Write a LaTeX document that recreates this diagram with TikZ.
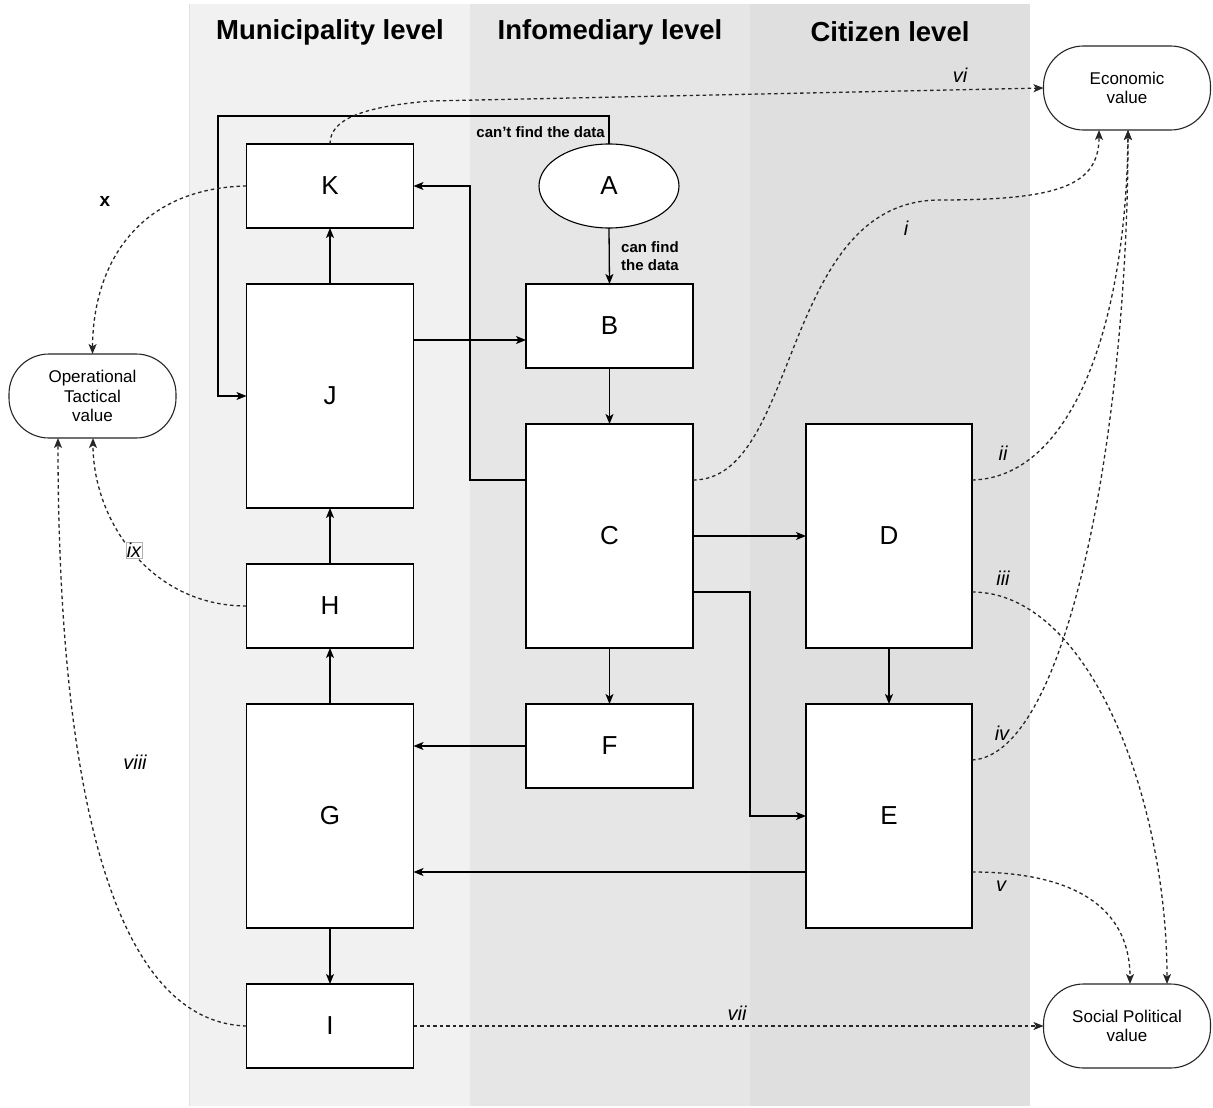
\documentclass[tikz,border=0pt]{standalone}
\usepackage{fontspec}
\setmainfont{Liberation Sans}
\usetikzlibrary{arrows.meta,shapes.geometric}

\definecolor{laneone}{HTML}{F1F1F1}
\definecolor{lanetwo}{HTML}{E6E6E6}
\definecolor{lanethree}{HTML}{DFDFDF}

\tikzset{
  box/.style={draw=black, line width=1.3pt, fill=white, minimum width=167pt,
    inner sep=0pt, outer sep=0pt, font=\fontsize{26}{30}\selectfont},
  smallbox/.style={box, minimum height=84pt},
  tallbox/.style={box, minimum height=224pt},
  valuebox/.style={draw=black!85, line width=1.1pt, fill=white, rounded corners=40pt,
    minimum width=167pt, minimum height=84pt, inner sep=0pt, outer sep=0pt,
    align=center, font=\fontsize{17}{19.5}\selectfont},
  lanehead/.style={font=\bfseries\fontsize{27.5}{32}\selectfont},
  conn/.style={line width=1.3pt, -{Stealth[length=10pt,width=8pt,inset=2.5pt]}},
  dconn/.style={line width=1.3pt, black!85, dash pattern=on 3.5pt off 3pt,
    -{Stealth[length=10pt,width=8pt,inset=2.5pt]}},
  numlabel/.style={font=\itshape\fontsize{20}{22}\selectfont, inner sep=1pt},
  notelabel/.style={font=\bfseries\fontsize{15}{18}\selectfont, inner sep=0pt}
}

\begin{document}
\begin{tikzpicture}[x=1pt,y=-1pt]
% canvas
\useasboundingbox (0,0) rectangle (1213,1108);
\fill[white] (0,0) rectangle (1213,1108);

% swim lanes
\fill[laneone] (189,4) rectangle (470,1106);
\fill[lanetwo] (470,4) rectangle (750,1106);
\fill[lanethree] (750,4) rectangle (1030,1106);
\draw[black!12, line width=0.6pt] (189,4) -- (189,1106);
\node[lanehead] (hm) at (330,32) {Municipality level};
\node[lanehead] (hi) at (610,32) {Infomediary level};
\node[lanehead] (hc) at (890,32) {Citizen level};

% process nodes
\node[smallbox] (K) at (330,186) {K};
\node[draw=black, line width=1.1pt, fill=white, ellipse, minimum width=140pt,
      minimum height=84pt, inner sep=0pt, outer sep=0pt,
      font=\fontsize{26}{30}\selectfont] (A) at (609,186) {A};
\node[tallbox] (J) at (330,396) {J};
\node[smallbox] (B) at (609.5,326) {B};
\node[tallbox] (C) at (609.5,536) {C};
\node[tallbox, minimum width=166pt] (D) at (889,536) {D};
\node[smallbox] (H) at (330,606) {H};
\node[tallbox] (G) at (330,816) {G};
\node[smallbox] (F) at (609.5,746) {F};
\node[tallbox, minimum width=166pt] (E) at (889,816) {E};
\node[smallbox] (I) at (330,1026) {I};

% value nodes
\node[valuebox] (op) at (92.5,396) {Operational\\Tactical\\value};
\node[valuebox] (eco) at (1127,88) {Economic\\value};
\node[valuebox] (soc) at (1127,1026) {Social Political\\value};

% bend points
\coordinate (a1) at (609,116);
\coordinate (a2) at (218,116);
\coordinate (c1) at (526,480);
\coordinate (c2) at (470,480);
\coordinate (c3) at (693,592);
\coordinate (c4) at (750,592);
\coordinate (jb) at (413,340);
\coordinate (e1) at (806,872);

% solid flow
\draw[conn] (A.north) -- (a1) -- (a2) |- (J.west);
\node[notelabel, anchor=east] (cant) at (605,132) {can't find the data};
\draw[conn] (A.south) -- (B.north);
\node[notelabel, anchor=west, align=left] (can) at (621,256) {can find\\the data};
\draw[conn] (J.north) -- (K.south);
\draw[conn] (jb) -- (jb -| B.west);
\draw[conn] (c1) -- (c2) |- (K.east);
\draw[conn] (B.south) -- (C.north);
\draw[conn] (C.east) -- (D.west);
\draw[conn] (c3) -- (c4) |- (E.west);
\draw[conn] (C.south) -- (F.north);
\draw[conn] (F.west) -- (F.west -| G.east);
\draw[conn] (e1) -- (e1 -| G.east);
\draw[conn] (D.south) -- (E.north);
\draw[conn] (G.north) -- (H.south);
\draw[conn] (H.north) -- (J.south);
\draw[conn] (G.south) -- (I.north);

% value flows
\coordinate (ecoi) at (1099,130);
\coordinate (ecoii) at (1128,130);
\coordinate (socv) at (1130,984);
\coordinate (sociii) at (1167,984);
\coordinate (opviii) at (58,438);
\coordinate (opix) at (93,438);
\coordinate (cr) at (693,480);
\coordinate (dr1) at (972,480);
\coordinate (dr2) at (972,592);
\coordinate (er1) at (972,760);
\coordinate (er2) at (972,872);

\draw[dconn] (K.north) .. controls (330,120) and (360,107) .. (430,101) -- (eco.west);
\node[numlabel] (lvi) at (960,75) {vi};

\draw[dconn] (K.west) .. controls (140,188) and (93,262) .. (op.north);
\node[font=\bfseries\fontsize{19}{21}\selectfont] (lx) at (105,201) {x};

\draw[dconn] (cr) .. controls (800,480) and (780,200) .. (940,200)
                  .. controls (1060,200) and (1099,185) .. (ecoi);
\node[numlabel] (li) at (906,228) {i};

\draw[dconn] (dr1) .. controls (1070,478) and (1126,330) .. (ecoii);
\node[numlabel] (lii) at (1003,453) {ii};

\draw[dconn] (er1) .. controls (1070,755) and (1128,420) .. (ecoii);
\node[numlabel] (liv) at (1002,733) {iv};

\draw[dconn] (dr2) .. controls (1090,592) and (1167,800) .. (sociii);
\node[numlabel] (liii) at (1003,578) {iii};

\draw[dconn] (er2) .. controls (1085,872) and (1130,915) .. (socv);
\node[numlabel] (lv) at (1001,886) {v};

\draw[dconn] (I.east) -- (soc.west);
\node[numlabel] (lvii) at (737,1013) {vii};

\draw[dconn] (H.west) .. controls (150,606) and (93,520) .. (opix);
\node[numlabel, draw=black!30, line width=0.5pt, fill=white] (lix) at (134,550) {ix};

\draw[dconn] (I.west) .. controls (110,1022) and (58,780) .. (opviii);
\node[numlabel] (lviii) at (135,762) {viii};
\end{tikzpicture}
\end{document}
